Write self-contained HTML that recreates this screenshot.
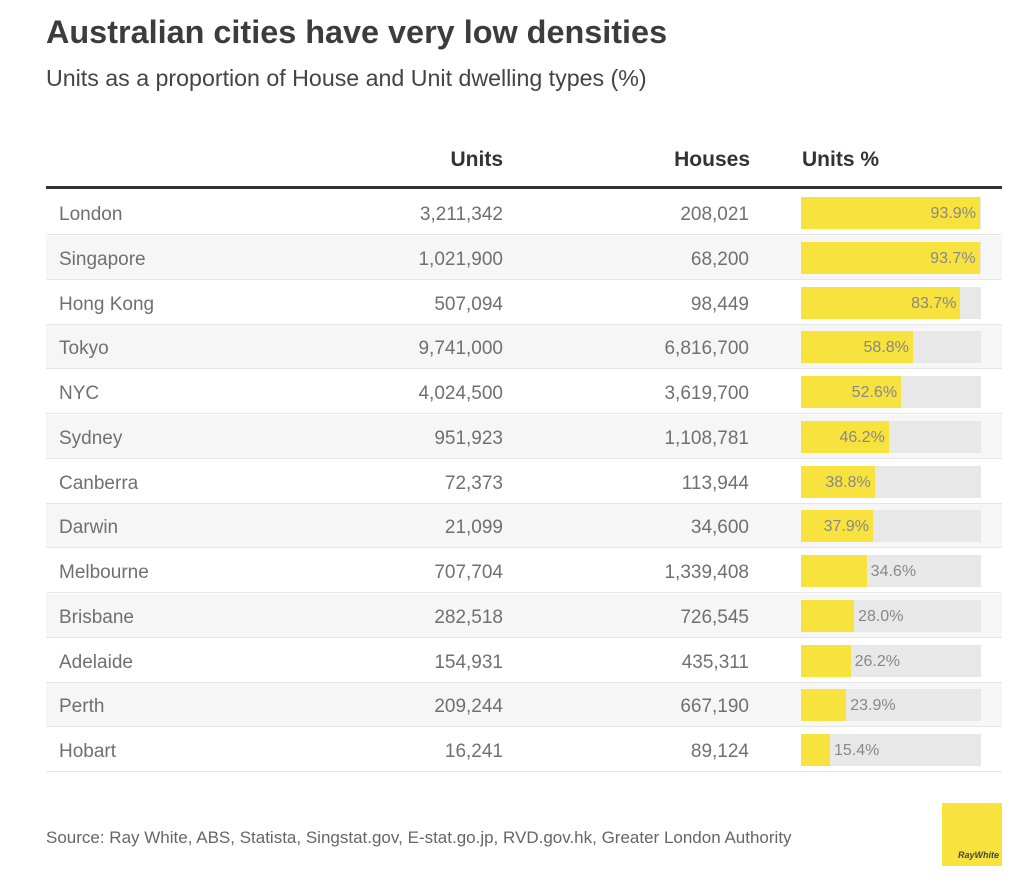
<!DOCTYPE html><html><head><style>
body{margin:0;width:1024px;height:890px;background:#fff;font-family:"Liberation Sans",sans-serif;position:relative;overflow:hidden}
.a{position:absolute;white-space:nowrap}
.r{position:absolute;left:46px;width:956px;height:44px;border-bottom:1px solid #e6e6e6;box-sizing:border-box}
.t{position:absolute;font-size:19px;color:#707070;top:13px}
.tr{text-align:right}
.trk{position:absolute;left:755px;top:6px;width:180px;height:32px;background:#e8e8e8}
.bar{position:absolute;left:0;top:0;height:32px;background:#f7e23e}
.p{position:absolute;top:8px;font-size:16px;color:#888}
</style></head><body>
<div class="a" style="left:46px;top:14px;font-size:32.4px;font-weight:bold;color:#3c3c3c">Australian cities have very low densities</div>
<div class="a" style="left:46px;top:65px;font-size:23.2px;color:#444">Units as a proportion of House and Unit dwelling types (%)</div>
<div class="a" style="left:403px;width:100px;text-align:right;top:148px;font-size:21px;font-weight:bold;color:#333">Units</div>
<div class="a" style="left:600px;width:150px;text-align:right;top:148px;font-size:21px;font-weight:bold;color:#333">Houses</div>
<div class="a" style="left:802px;top:148px;font-size:21px;font-weight:bold;color:#333">Units %</div>
<div class="a" style="left:46px;top:186px;width:956px;height:3px;background:#333"></div>
<div id="rows"></div>
<div class="a" style="left:46px;top:828px;font-size:17px;color:#666">Source: Ray White, ABS, Statista, Singstat.gov, E-stat.go.jp, RVD.gov.hk, Greater London Authority</div>
<div class="a" style="left:942px;top:803px;width:60px;height:63px;background:#f7e23e"><div style="position:absolute;bottom:6px;right:3px;font-size:9px;font-weight:bold;font-style:italic;color:#444">RayWhite</div></div>
<script>
var d=[["London","3,211,342","208,021",93.9],["Singapore","1,021,900","68,200",93.7],["Hong Kong","507,094","98,449",83.7],["Tokyo","9,741,000","6,816,700",58.8],["NYC","4,024,500","3,619,700",52.6],["Sydney","951,923","1,108,781",46.2],["Canberra","72,373","113,944",38.8],["Darwin","21,099","34,600",37.9],["Melbourne","707,704","1,339,408",34.6],["Brisbane","282,518","726,545",28.0],["Adelaide","154,931","435,311",26.2],["Perth","209,244","667,190",23.9],["Hobart","16,241","89,124",15.4]];
var h="";d.forEach(function(x,i){var top=191+i*44.75;var w=29+1.91*(x[3]-15.4);var inside=x[3]>35;
h+='<div class="r" style="top:'+top+'px;background:'+(i%2?'#f6f6f6':'#fff')+'"><div class="t" style="left:13px">'+x[0]+'</div><div class="t tr" style="left:300px;width:157px">'+x[1]+'</div><div class="t tr" style="left:550px;width:153px">'+x[2]+'</div><div class="trk"><div class="bar" style="width:'+w+'px"></div><div class="p" style="'+(inside?'left:0;width:'+(w-4)+'px;text-align:right':'left:'+(w+4)+'px')+'">'+x[3].toFixed(1)+'%</div></div></div>';});
document.getElementById("rows").innerHTML=h;
</script></body></html>
